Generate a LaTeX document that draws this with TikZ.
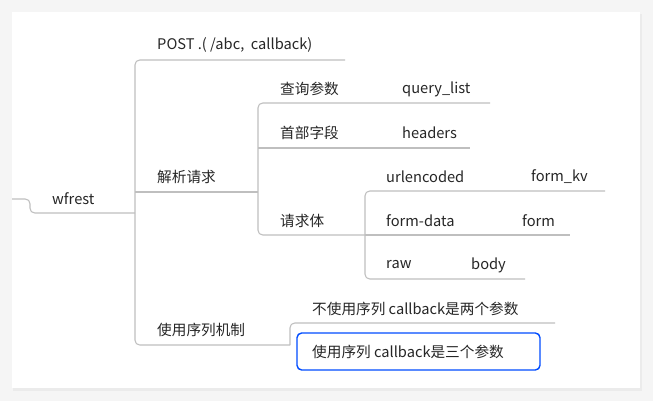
\documentclass[tikz,border=0pt]{standalone}
\usepackage{fontspec}
\setmainfont{Noto Sans CJK SC}
\usetikzlibrary{positioning}

\tikzset{
  topic/.style={font=\fontsize{12.5}{14}\selectfont, text=black!85, inner sep=0pt, anchor=west},
  branch/.style={draw=black!25, line width=0.9pt, rounded corners=4pt},
}

\begin{document}
\begin{tikzpicture}[x=0.03cm, y=-0.03cm]
    \useasboundingbox (0,0) rectangle (653,401);
    \fill[black!4] (0,0) rectangle (653,401);
    \fill[black!8] (13,14) rectangle (642,391);
    \fill[white] (12,12) rectangle (640,388);

    % root
    \node[topic] (root) at (52,199) {wfrest};
    \draw[branch] (12,199) -- (30,199) -- (30,213) -- (135,213);

    % first level
    \node[topic] (post) at (157,45) {POST .( /abc,\ \ callback)};
    \node[topic] (parse) at (157,177) {解析请求};
    \node[topic] (seq) at (157,330) {使用序列机制};
    \draw[branch] (345,60) -- (135,60) -- (135,345) -- (290,345);
    \draw[branch] (135,192) -- (258,192);

    % parse request
    \node[topic] (query) at (280,89) {查询参数};
    \node[topic] (qlist) at (402,89) {query\_list};
    \node[topic] (head) at (280,133) {首部字段};
    \node[topic] (headers) at (402,133) {headers};
    \node[topic] (reqbody) at (280,221) {请求体};
    \draw[branch] (490,103) -- (258,103) -- (258,235) -- (365,235);
    \draw[branch] (258,148) -- (470,148);

    % request body
    \node[topic] (urlenc) at (386,177) {urlencoded};
    \node[topic] (formkv) at (531,177) {form\_kv};
    \node[topic] (fdata) at (386,221) {form-data};
    \node[topic] (form) at (522,221) {form};
    \node[topic] (raw) at (386,265) {raw};
    \node[topic] (body) at (471,265) {body};
    \draw[branch] (605,191) -- (365,191) -- (365,279) -- (525,279);
    \draw[branch] (365,235) -- (570,235);

    % sequence
    \node[topic] (noseq) at (312,309) {不使用序列 callback是两个参数};
    \draw[branch] (290,345) -- (290,323) -- (555,323);
    \draw[draw=blue!70!cyan, line width=1.2pt, rounded corners=4pt] (297,333) rectangle (540,370);
    \node[topic] (useseq) at (312,352) {使用序列 callback是三个参数};
\end{tikzpicture}
\end{document}
